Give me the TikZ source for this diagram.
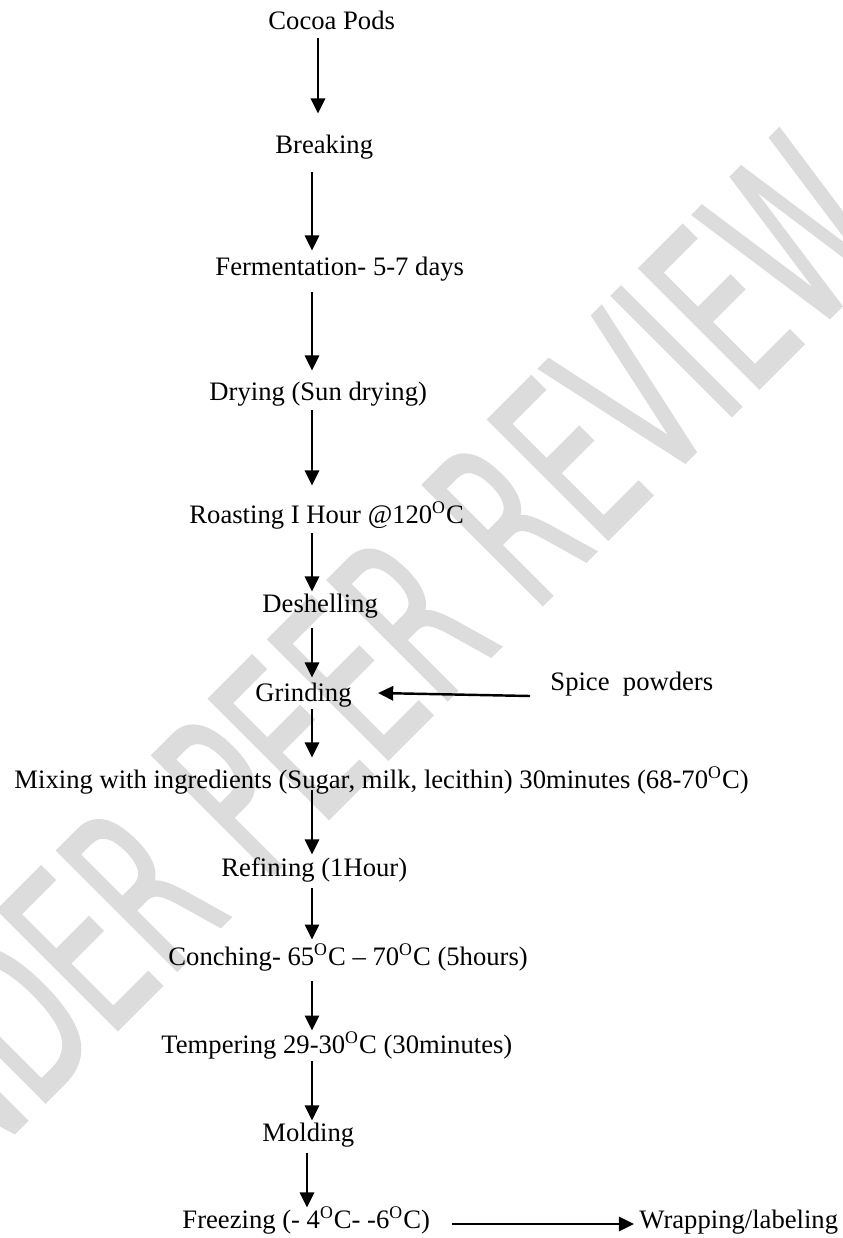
\documentclass[tikz,border=0pt]{standalone}
\usepackage{fontspec}
\setmainfont{Liberation Serif}
\newfontfamily\wmfont[FakeStretch=0.57,FakeBold=0.9]{DejaVu Sans}
\usetikzlibrary{arrows.meta,calc}
\definecolor{wmgray}{RGB}{220,220,220}
\begin{document}
\begin{tikzpicture}[x=0.4505pt, y=-0.4505pt,
  lbl/.style={inner sep=0pt, anchor=base west, text height=8.1pt, text depth=2.25pt, font=\fontsize{12}{14}\selectfont},
  arr/.style={line width=1.1pt, -{Triangle[length=6.8pt,width=6.4pt]}}]
\useasboundingbox (0,0) rectangle (843,1238);
\begin{scope}
\clip (0,0) rectangle (843,1238);
\node[rotate=45, inner sep=0pt, text=wmgray, font=\wmfont\fontsize{105}{105}\selectfont] (wm) at (341,689) {UNDER PEER REVIEW};
\end{scope}
\node[lbl] (cocoa) at (268,29) {Cocoa Pods};
\node[lbl] (breaking) at (275,153) {Breaking};
\node[lbl] (ferm) at (215,275) {Fermentation- 5-7 days};
\node[lbl] (drying) at (209,400) {Drying (Sun drying)};
\node[lbl] (roasting) at (189,523) {Roasting I Hour @120\textsuperscript{O}C};
\node[lbl] (desh) at (262,612) {Deshelling};
\node[lbl] (grind) at (255,701) {Grinding};
\node[lbl] (spice) at (550,690) {Spice\ \ powders};
\node[lbl] (mixing) at (14,788) {Mixing with ingredients (Sugar, milk, lecithin) 30minutes (68-70\textsuperscript{O}C)};
\node[lbl] (refining) at (221,876) {Refining (1Hour)};
\node[lbl] (conching) at (168,965) {Conching- 65\textsuperscript{O}C – 70\textsuperscript{O}C (5hours)};
\node[lbl] (tempering) at (161,1053) {Tempering 29-30\textsuperscript{O}C (30minutes)};
\node[lbl] (molding) at (262,1141) {Molding};
\node[lbl] (freezing) at (182,1228) {Freezing (- 4\textsuperscript{O}C- -6\textsuperscript{O}C)};
\node[lbl] (wrapping) at (639,1228) {Wrapping/labeling};
\coordinate (c1) at (318,0);
\coordinate (c2) at (312,0);
\coordinate (c3) at (307,0);
\draw[arr, shorten <=1.8pt, shorten >=9.46pt] (cocoa.south -| c1) -- (breaking.north -| c1);
\draw[arr, shorten <=6.31pt, shorten >=2.7pt] (breaking.south -| c2) -- (ferm.north -| c2);
\draw[arr, shorten <=5.41pt, shorten >=4.96pt] (ferm.south -| c2) -- (drying.north -| c2);
\draw[arr, shorten <=2.25pt, shorten >=8.56pt] (drying.south -| c2) -- (roasting.north -| c2);
\draw[arr, shorten <=2.25pt, shorten >=0.9pt] (roasting.south -| c2) -- (desh.north -| c2);
\draw[arr, shorten <=4.96pt, shorten >=2.25pt] (desh.south -| c2) -- (grind.north -| c2);
\draw[arr, shorten <=1.35pt, shorten >=5.41pt] (grind.south -| c2) -- (mixing.north -| c2);
\draw[arr, shorten <=-1.35pt, shorten >=1.35pt] (mixing.south -| c2) -- (refining.north -| c2);
\draw[arr, shorten <=3.15pt, shorten >=3.15pt] (refining.south -| c2) -- (conching.north -| c2);
\draw[arr, shorten <=4.96pt, shorten >=1.8pt] (conching.south -| c2) -- (tempering.north -| c2);
\draw[arr, shorten <=1.35pt, shorten >=0.9pt] (tempering.south -| c2) -- (molding.north -| c2);
\draw[arr, shorten <=3.15pt, shorten >=0.9pt] (molding.south -| c3) -- (freezing.north -| c3);
\draw[arr] ($(spice.base west)+(-20,6)$) -- ($(grind.base east)+(26,-8)$);
\draw[arr, shorten <=9.9pt, shorten >=2.25pt] ([yshift=1.8pt]freezing.base east) -- ([yshift=1.8pt]wrapping.base west);
\end{tikzpicture}
\end{document}
